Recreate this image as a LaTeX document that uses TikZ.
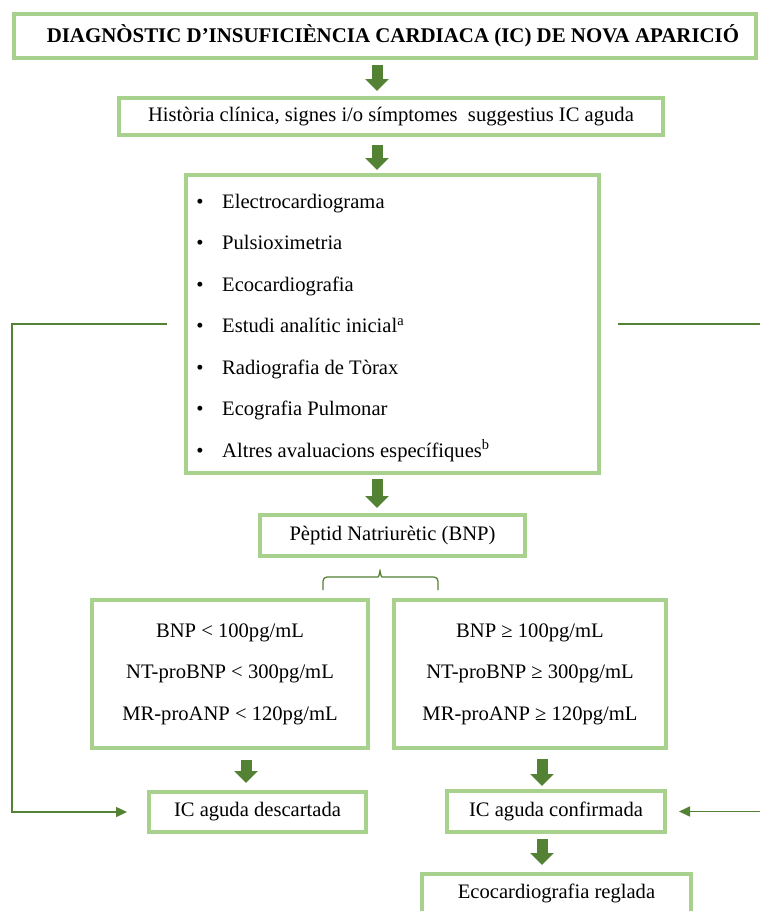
\documentclass[tikz,border=0pt]{standalone}
\usepackage{fontspec}
\setmainfont{Liberation Serif}
\usetikzlibrary{arrows.meta,calc}
\definecolor{lg}{HTML}{A9D18E}
\definecolor{dg}{HTML}{548235}
\begin{document}
\begin{tikzpicture}[x=1pt,y=-1pt,
  box/.style={draw=lg, line width=3.8pt, inner sep=0pt, outer sep=0pt,
    font=\fontsize{20.6}{24.6}\selectfont},
  txt/.style={inner sep=0pt, font=\fontsize{20.6}{24.6}\selectfont},
  blk/.style={draw=dg, line width=11pt, -{Triangle[width=23pt,length=12pt]},
    shorten <=7pt, shorten >=7pt},
  conn/.style={draw=dg, line width=1.5pt, -{Triangle[width=10pt,length=11pt]}},
  brc/.style={draw=dg, line width=1.3pt}]
\useasboundingbox (0,0) rectangle (760,911);
\fill[white] (0,0) rectangle (760,911);

% boxes
\node[box, minimum width=742pt, minimum height=44pt,
  font=\fontsize{20.9}{24.6}\selectfont] (title) at (385,36)
  {\hspace*{16pt}\bfseries DIAGNÒSTIC D’INSUFICIÈNCIA CARDIACA (IC) DE NOVA APARICIÓ};
\node[box, minimum width=544pt, minimum height=37pt] (hist) at (391,116.5)
  {Història clínica, signes i/o símptomes~ suggestius IC aguda};
\node[box, minimum width=413pt, minimum height=298pt] (list) at (392.5,324) {};
\node[box, minimum width=265pt, minimum height=41pt] (bnp) at (392.5,535.5)
  {Pèptid Natriurètic (BNP)};
\node[box, minimum width=276pt, minimum height=148pt, align=center,
  font=\fontsize{20.6}{41.5}\selectfont] (low) at (230,674)
  {BNP < 100pg/mL\\NT-proBNP < 300pg/mL\\MR-proANP < 120pg/mL};
\node[box, minimum width=272pt, minimum height=148pt, align=center,
  font=\fontsize{20.6}{41.5}\selectfont] (high) at (530,674)
  {BNP ≥ 100pg/mL\\NT-proBNP ≥ 300pg/mL\\MR-proANP ≥ 120pg/mL};
\node[box, minimum width=217pt, minimum height=40pt] (desc) at (257.5,812)
  {IC aguda descartada};
\node[box, minimum width=218pt, minimum height=41pt] (conf) at (556,811.5)
  {IC aguda confirmada};
\node[box, minimum width=269pt, minimum height=39pt] (eco) at (556.5,893.5)
  {Ecocardiografia reglada};

% list items
\foreach \t [count=\i] in {Electrocardiograma, Pulsioximetria, Ecocardiografia,
  {Estudi analític inicial\textsuperscript{a}}, Radiografia de Tòrax,
  Ecografia Pulmonar, {Altres avaluacions específiques\textsuperscript{b}}}{
  \node[txt, anchor=base] (b\i) at (200,{208.3+41.5*(\i-1)}) {•};
  \node[txt, anchor=base west] (it\i) at (222,{208.3+41.5*(\i-1)}) {\t};
}

% block arrows
\coordinate (ax) at (377,0);
\coordinate (lx) at (246,0);
\coordinate (rx) at (542,0);
\draw[blk] (title.south -| ax) -- (hist.north -| ax);
\draw[blk, shorten <=10pt, shorten >=5pt] (hist.south -| ax) -- (list.north -| ax);
\draw[blk, shorten <=6pt] (list.south -| ax) -- (bnp.north -| ax);
\draw[blk, shorten <=12pt, shorten >=9pt] (low.south -| lx) -- (desc.north -| lx);
\draw[blk, shorten <=11pt, shorten >=5pt] (high.south -| rx) -- (conf.north -| rx);
\draw[blk, shorten <=7pt, shorten >=9pt] (conf.south -| rx) -- (eco.north -| rx);

% brace
\coordinate (bl) at (323,590);
\coordinate (bm) at (380,567);
\coordinate (br) at (438,590);
\draw[brc, rounded corners=4pt] (bl) -- (bl |- 0,577) -- (374,577)
  .. controls (378.5,577) and (380,573) .. (bm)
  .. controls (380,573) and (381.5,577) .. (386,577) -- (br |- 0,577) -- (br);

% side connectors
\coordinate (lft) at (12,0);
\coordinate (rgt) at (763,0);
\draw[conn, shorten >=22pt] ([xshift=-19pt]list.west) -- (list.west -| lft) |- (desc.west);
\draw[conn, shorten >=14pt] ([xshift=19pt]list.east) -- (list.east -| rgt) |- (conf.east);
\end{tikzpicture}
\end{document}
